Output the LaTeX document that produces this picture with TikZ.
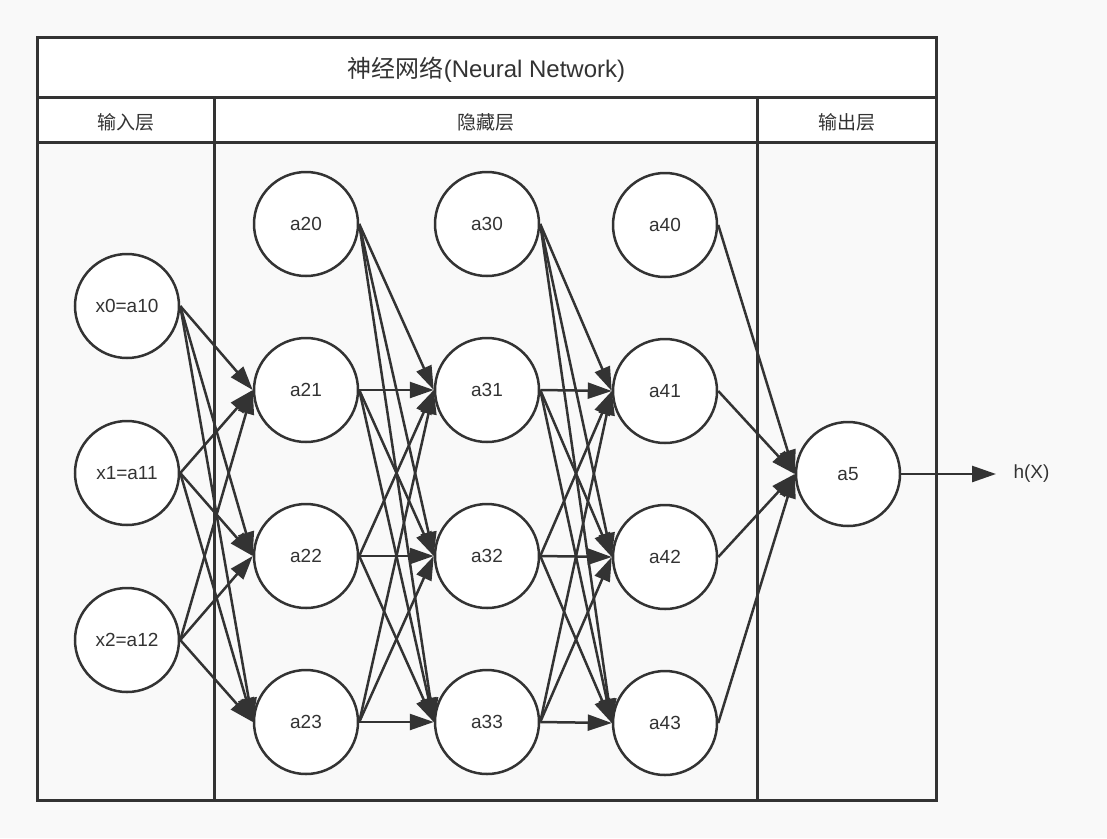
\documentclass[tikz,border=0pt]{standalone}
\usepackage{fontspec}
\setmainfont{Liberation Sans}
\newfontfamily\cjk{Noto Sans CJK SC}
\usetikzlibrary{arrows.meta}
\definecolor{ink}{HTML}{333333}
\definecolor{bg}{HTML}{F9F9F9}
\begin{document}
\begin{tikzpicture}[x=1pt,y=-1pt,
  neuron/.style={circle,draw=ink,line width=2.5pt,fill=white,minimum size=104pt,inner sep=0pt,font=\fontsize{19}{22}\selectfont,text=ink},
  link/.style={draw=ink,line width=2.5pt,-{Triangle[length=24pt,width=16pt]}},
  frame/.style={draw=ink,line width=3pt},
  head/.style={font=\fontsize{19}{22}\selectfont\cjk,text=ink},
  lbl/.style={font=\fontsize{19}{22}\selectfont,text=ink}]
\useasboundingbox[fill=bg] (0,0) rectangle (1107,838);
% frame
\fill[white] (37,37) rectangle (936,142);
\draw[frame] (37,37) rectangle (936,800);
\draw[frame] (37,97) -- (936,97);
\draw[frame] (37,142) -- (936,142);
\draw[frame] (214,97) -- (214,800);
\draw[frame] (757,97) -- (757,800);
\node[font=\fontsize{24}{28}\selectfont,text=ink] (title) at (486.5,70) {{\cjk 神经网络}(Neural Network)};
\node[head] (h1) at (125.5,122) {输入层};
\node[head] (h2) at (485.5,122) {隐藏层};
\node[head] (h3) at (846.5,122) {输出层};
% nodes
\node[neuron] (a10) at (127,306) {x0=a10};
\node[neuron] (a11) at (127,473) {x1=a11};
\node[neuron] (a12) at (127,640) {x2=a12};
\node[neuron] (a20) at (306,224) {a20};
\node[neuron] (a21) at (306,390) {a21};
\node[neuron] (a22) at (306,556) {a22};
\node[neuron] (a23) at (306,722) {a23};
\node[neuron] (a30) at (487,224) {a30};
\node[neuron] (a31) at (487,390) {a31};
\node[neuron] (a32) at (487,556) {a32};
\node[neuron] (a33) at (487,722) {a33};
\node[neuron] (a40) at (665,225) {a40};
\node[neuron] (a41) at (665,391) {a41};
\node[neuron] (a42) at (665,557) {a42};
\node[neuron] (a43) at (665,723) {a43};
\node[neuron] (a5) at (848,474) {a5};
\node[lbl] (hx) at (1031.5,474) {h(X)};
% edges
\foreach \s in {a10,a11,a12}{\foreach \t in {a21,a22,a23}{\draw[link] (\s.east) -- (\t.west);}}
\foreach \s in {a20,a21,a22,a23}{\foreach \t in {a31,a32,a33}{\draw[link] (\s.east) -- (\t.west);}}
\foreach \s in {a30,a31,a32,a33}{\foreach \t in {a41,a42,a43}{\draw[link] (\s.east) -- (\t.west);}}
\foreach \s in {a40,a41,a42,a43}{\draw[link] (\s.east) -- (a5.west);}
\draw[link] (a5.east) -- ([xshift=-14pt]hx.west);
\end{tikzpicture}
\end{document}
